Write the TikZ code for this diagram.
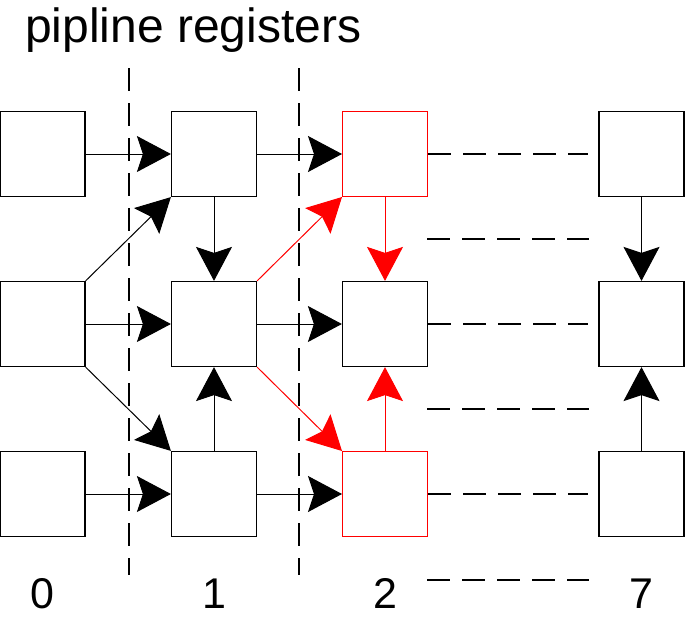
\documentclass[tikz,border=0pt]{standalone}
\usepackage{fontspec}
\setmainfont{Liberation Sans}
\usetikzlibrary{arrows.meta}

\begin{document}
\begin{tikzpicture}[x=1pt,y=-1pt,>={Stealth[length=34pt,width=36pt,inset=6pt]},
  reg/.style={draw,line width=1.2pt,minimum size=85pt,inner sep=0pt},
  flow/.style={->,line width=1pt},
  stage/.style={dash pattern=on 23pt off 12pt,line width=1.2pt},
  lbl/.style={anchor=base,inner sep=0pt,font=\fontsize{43}{43}\selectfont}]
  \useasboundingbox (0,0) rectangle (685,619);

  % register boxes
  \foreach \c/\x in {0/42.5,1/214,7/641.5} {
    \foreach \r/\y in {1/154,2/324,3/494} {
      \node[reg] (b\c-\r) at (\x,\y) {};
    }
  }
  \node[reg,draw=red,line width=1pt] (b2-1) at (385,154) {};
  \node[reg] (b2-2) at (385,324) {};
  \node[reg,draw=red,line width=1pt] (b2-3) at (385,494) {};

  % title and stage numbers
  \node[anchor=base west,inner sep=0pt,font=\fontsize{48}{48}\selectfont] (title) at (25,42) {pipline registers};
  \foreach \c/\x in {0/42.5,1/214,2/385,7/641.5} {
    \node[lbl] (n\c) at (\x,608) {\c};
  }

  % pipeline register boundaries
  \draw[stage] (129,68) -- (129,575);
  \draw[stage] (299,68) -- (299,575);

  % data flow
  \foreach \r in {1,2,3} {
    \draw[flow] (b0-\r.east) -- (b1-\r.west);
    \draw[flow] (b1-\r.east) -- (b2-\r.west);
  }
  \draw[flow] (b0-2.north east) -- (b1-1.south west);
  \draw[flow] (b0-2.south east) -- (b1-3.north west);
  \draw[flow] (b1-1.south) -- (b1-2.north);
  \draw[flow] (b1-3.north) -- (b1-2.south);
  \draw[flow,red] (b1-2.north east) -- (b2-1.south west);
  \draw[flow,red] (b1-2.south east) -- (b2-3.north west);
  \draw[flow,red] (b2-1.south) -- (b2-2.north);
  \draw[flow,red] (b2-3.north) -- (b2-2.south);
  \draw[flow] (b7-1.south) -- (b7-2.north);
  \draw[flow] (b7-3.north) -- (b7-2.south);

  % stages 3..6 left out
  \foreach \r in {1,2,3} {
    \path (b7-\r.west) ++(-10,0) coordinate (e\r);
    \draw[stage] (b2-\r.east) -- (e\r);
  }
  \foreach \y [count=\i] in {239,409,580} {
    \coordinate (gs\i) at (427,\y);
    \coordinate (ge\i) at (589,\y);
    \draw[stage] (gs\i) -- (ge\i);
  }
\end{tikzpicture}
\end{document}
